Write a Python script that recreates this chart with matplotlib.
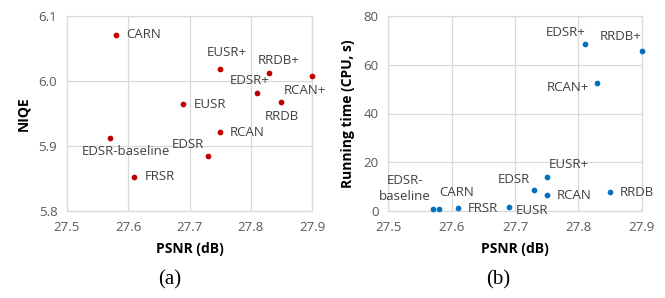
import matplotlib
matplotlib.use("Agg")
import matplotlib.pyplot as plt

plt.rcParams['font.family'] = ['Open Sans', 'DejaVu Sans']

# ---- data ----
methods_a = ["CARN", "EUSR+", "RRDB+", "RCAN+", "EDSR+", "RRDB", "EUSR", "RCAN",
             "EDSR-baseline", "EDSR", "FRSR"]
psnr_a = [27.58, 27.75, 27.83, 27.90, 27.81, 27.85, 27.69, 27.75, 27.57, 27.73, 27.61]
niqe_a = [6.071, 6.019, 6.013, 6.008, 5.981, 5.967, 5.964, 5.921, 5.913, 5.884, 5.853]

methods_b = ["EDSR+", "RRDB+", "RCAN+", "EUSR+", "EDSR", "RCAN", "RRDB", "EUSR",
             "FRSR", "CARN", "EDSR-\nbaseline"]
psnr_b = [27.81, 27.90, 27.83, 27.75, 27.73, 27.75, 27.85, 27.69, 27.61, 27.58, 27.57]
time_b = [68.6, 65.6, 52.4, 14.1, 8.6, 6.4, 7.9, 1.6, 1.1, 0.8, 0.8]

xticks = [27.5, 27.6, 27.7, 27.8, 27.9]
yticks_a = [5.8, 5.9, 6.0, 6.1]
yticks_b = [0, 20, 40, 60, 80]

# label offsets in pixels (dx, dy screen-down) and alignment
off_a = {
    "CARN": (10, 0, 'left'), "EUSR+": (7, -16, 'center'), "RRDB+": (10, -12, 'center'),
    "RCAN+": (-7, 15, 'center'), "EDSR+": (-7, -13, 'center'), "RRDB": (0, 14, 'center'),
    "EUSR": (10, 0, 'left'), "RCAN": (10, 0, 'left'), "EDSR-baseline": (16, 14, 'center'),
    "EDSR": (-20, -12, 'center'), "FRSR": (10, 0, 'left'),
}
off_b = {
    "EDSR+": (-19, -11, 'center'), "RRDB+": (-21, -15, 'center'), "RCAN+": (-8, 4, 'right'),
    "EUSR+": (22, -12, 'center'), "EDSR": (-4, -11, 'right'), "RCAN": (10, 0, 'left'),
    "RRDB": (10, 1, 'left'), "EUSR": (7, 3, 'left'), "FRSR": (10, 0, 'left'),
    "CARN": (18, -17, 'center'), "EDSR-\nbaseline": (-28, -21, 'center'),
}

W, H = 665, 298
fig = plt.figure(figsize=(W / 100, H / 100), dpi=100)
ax1 = fig.add_axes([67 / W, 1 - 211 / H, (312 - 67) / W, (211 - 16) / H])
ax2 = fig.add_axes([388.3 / W, 1 - 211 / H, (641.7 - 388.3) / W, (211 - 16) / H])

grid_c = '#D9D9D9'
txt_c = '#404040'
tick_c = '#595959'


def style(ax, yticks, ylim, ylabel, fmt):
    ax.set_xlim(27.5, 27.9)
    ax.set_ylim(*ylim)
    ax.set_xticks(xticks)
    ax.set_xticklabels([f"{v:.1f}" for v in xticks])
    ax.set_yticks(yticks)
    ax.set_yticklabels([fmt(v) for v in yticks])
    ax.grid(True, color=grid_c, linewidth=0.9)
    ax.set_axisbelow(True)
    for s in ax.spines.values():
        s.set_color(grid_c)
        s.set_linewidth(0.9)
    ax.tick_params(length=0, labelsize=9.5, colors=tick_c, pad=7)
    ax.set_xlabel("PSNR (dB)", fontsize=10, fontweight='bold', color='black', labelpad=6)
    ax.set_ylabel(ylabel, fontsize=10, fontweight='bold', color='black', labelpad=6)


style(ax1, yticks_a, (5.8, 6.1), "NIQE", lambda v: f"{v:.1f}")
style(ax2, yticks_b, (0, 80), "Running time (CPU, s)", lambda v: f"{v:d}")

ax1.scatter(psnr_a, niqe_a, s=17, color='#C00000', zorder=3, clip_on=False, linewidths=0)
ax2.scatter(psnr_b, time_b, s=17, color='#0070C0', zorder=3, clip_on=False, linewidths=0)

for ax, names, xs, ys, offs in [(ax1, methods_a, psnr_a, niqe_a, off_a),
                                (ax2, methods_b, psnr_b, time_b, off_b)]:
    for n, x, y in zip(names, xs, ys):
        dx, dy, ha = offs[n]
        ax.annotate(n, (x, y), xytext=(dx, -dy), textcoords='offset pixels',
                    ha=ha, va='center', fontsize=9.5, color=txt_c,
                    multialignment='center', linespacing=1.3)

fig.text(170 / W, 1 - 280 / H, "(a)", fontsize=15, family='Liberation Serif',
         ha='center', va='center', color='black')
fig.text(498 / W, 1 - 280 / H, "(b)", fontsize=15, family='Liberation Serif',
         ha='center', va='center', color='black')

fig.savefig("out.png", dpi=100)
